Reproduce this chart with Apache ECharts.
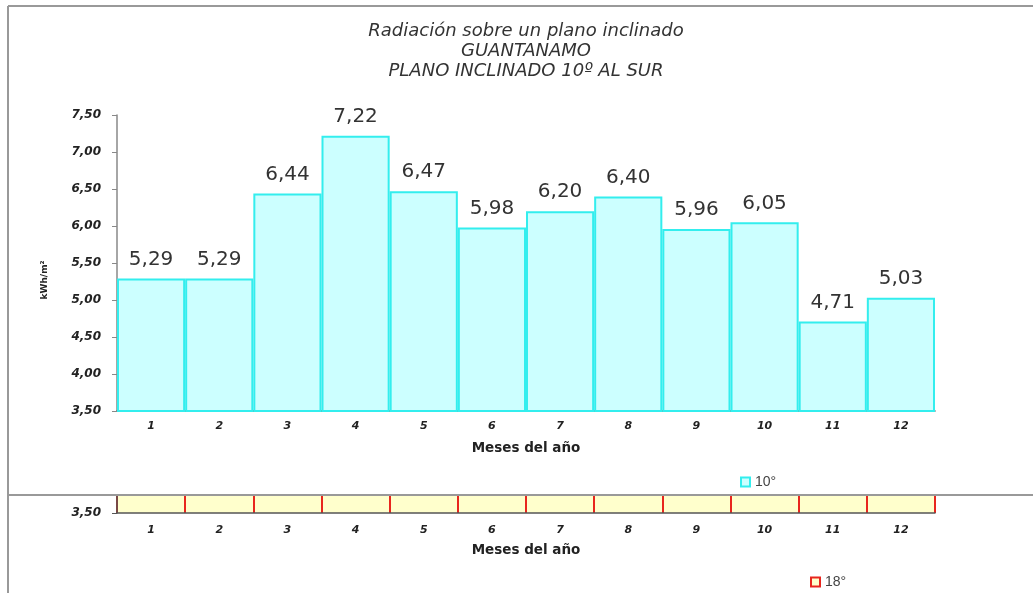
<!DOCTYPE html>
<html><head><meta charset="utf-8">
<script src="https://cdn.jsdelivr.net/npm/echarts@6/dist/echarts.min.js"></script>
<style>html,body{margin:0;padding:0;background:#fff}#c{width:1033px;height:593px}</style>
</head><body><div id="c"></div>
<script>
const months = ['1','2','3','4','5','6','7','8','9','10','11','12'];
const rad10 = [5.29, 5.29, 6.44, 7.22, 6.47, 5.98, 6.20, 6.40, 5.96, 6.05, 4.71, 5.03];
const rad18 = [];
const titleLines = ['Radiación sobre un plano inclinado', 'GUANTANAMO', 'PLANO INCLINADO 10º AL SUR'];
const fmt = v => v.toFixed(2).replace('.', ',');
const axLabel = {fontFamily:'DejaVu Sans', fontWeight:'bold', fontStyle:'italic', fontSize:11, color:'#222'};
const nameStyle = {fontFamily:'DejaVu Sans', fontWeight:'bold', fontSize:13.5, color:'#222'};
const chart = echarts.init(document.getElementById('c'));
chart.setOption({
  animation:false,
  title:{text:titleLines.join('\n'), left:521, top:16, textAlign:'center',
    textStyle:{fontFamily:'DejaVu Sans', fontStyle:'italic', fontWeight:'normal', fontSize:18, lineHeight:20, color:'#333'}},
  legend:[
    {data:['10°'], left:735, top:470, icon:'rect', itemWidth:9, itemHeight:9, itemGap:5,
     textStyle:{fontFamily:'Liberation Sans', fontSize:14, color:'#444'}},
    {data:['18°'], left:805, top:570, icon:'rect', itemWidth:9, itemHeight:9, itemGap:5,
     textStyle:{fontFamily:'Liberation Sans', fontSize:14, color:'#444'}}
  ],
  grid:[
    {left:117, right:98, top:115, height:296},
    {left:117, right:98, top:495, height:18, show:true, backgroundColor:'#ffffcc', borderWidth:0}
  ],
  xAxis:[
    {type:'category', gridIndex:0, data:months,
     axisLine:{lineStyle:{color:'#555', width:1.5}}, axisTick:{length:5, lineStyle:{color:'#555'}},
     axisLabel:Object.assign({margin:10}, axLabel),
     name:'Meses del año', nameLocation:'middle', nameGap:30, nameTextStyle:nameStyle},
    {type:'category', gridIndex:1, data:months,
     axisLine:{lineStyle:{color:'#555', width:1.5}}, axisTick:{length:5, lineStyle:{color:'#555'}},
     splitLine:{show:true, lineStyle:{color:'#e8261e', width:2}},
     axisLabel:Object.assign({margin:12}, axLabel),
     name:'Meses del año', nameLocation:'middle', nameGap:30, nameTextStyle:nameStyle}
  ],
  yAxis:[
    {type:'value', gridIndex:0, min:3.5, max:7.5, interval:0.5,
     axisLine:{show:true, lineStyle:{color:'#888', width:1.5}}, axisTick:{show:true, length:5, lineStyle:{color:'#888'}},
     splitLine:{show:false},
     axisLabel:Object.assign({formatter:fmt, margin:16}, axLabel, {fontSize:12}),
     name:'kWh/m²', nameLocation:'middle', nameGap:68, nameRotate:90,
     nameTextStyle:{fontFamily:'DejaVu Sans', fontWeight:'bold', fontSize:9, color:'#222', padding:[0,34,0,0]}},
    {type:'value', gridIndex:1, min:3.5, max:4.0, interval:0.5,
     axisLine:{show:true, lineStyle:{color:'#555', width:1.5}}, axisTick:{show:true, length:5, lineStyle:{color:'#555'}},
     splitLine:{show:false},
     axisLabel:Object.assign({formatter:fmt, margin:16, showMaxLabel:false}, axLabel, {fontSize:12})}
  ],
  series:[
    {name:'10°', type:'bar', xAxisIndex:0, yAxisIndex:0, data:rad10, barCategoryGap:'0%',
     itemStyle:{color:'#ccffff', borderColor:'#33eeee', borderWidth:2},
     label:{show:true, position:'top', distance:9, formatter:p=>fmt(p.value),
       fontFamily:'DejaVu Sans', fontSize:20, color:'#333'}},
    {name:'18°', type:'bar', xAxisIndex:1, yAxisIndex:1, data:rad18,
     itemStyle:{color:'#ffffcc', borderColor:'#e8261e', borderWidth:2}}
  ],
  graphic:[
    {type:'line', shape:{x1:8, y1:6, x2:8, y2:593}, style:{stroke:'#999', lineWidth:2}, z:-1},
    {type:'line', shape:{x1:8, y1:6, x2:1033, y2:6}, style:{stroke:'#999', lineWidth:2}, z:-1},
    {type:'line', shape:{x1:8, y1:495, x2:1033, y2:495}, style:{stroke:'#999', lineWidth:2}, z:10}
  ]
});
</script></body></html>
